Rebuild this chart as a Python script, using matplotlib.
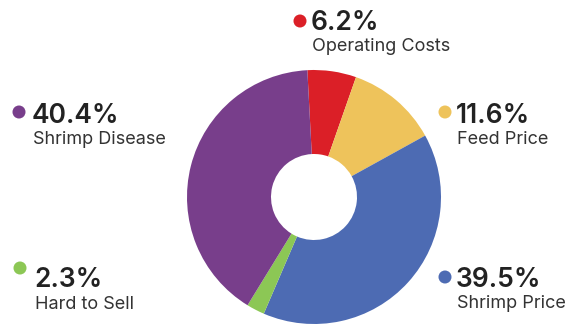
import matplotlib
matplotlib.use("Agg")
import matplotlib.pyplot as plt
from matplotlib.patches import Circle

# clockwise from the top
labels = ["Operating Costs", "Feed Price", "Shrimp Price", "Hard to Sell", "Shrimp Disease"]
shares = [6.2, 11.6, 39.5, 2.3, 40.4]
colors = ["#db1f27", "#eec35b", "#4d6bb3", "#8cc755", "#783e8b"]

# where each label block sits (pixels: dot x, dot y, text x, value baseline, name baseline)
label_pos = {
    "Operating Costs": (300, 21, 311, 30, 51),
    "Feed Price": (445, 112, 456, 123, 144),
    "Shrimp Price": (445, 277, 456, 287, 308),
    "Hard to Sell": (20, 268, 34, 287, 309),
    "Shrimp Disease": (19, 112, 32, 123, 144),
}

W, H = 568, 325
fig = plt.figure(figsize=(W / 100, H / 100), dpi=100)

cx, cy, r, r_in = 314, 197, 127, 43
ax = fig.add_axes([(cx - r) / W, (H - cy - r) / H, 2 * r / W, 2 * r / H])
ax.pie(shares, colors=colors, startangle=93, counterclock=False, radius=1,
       wedgeprops=dict(width=1 - r_in / r, linewidth=0))
ax.set_xlim(-1, 1)
ax.set_ylim(-1, 1)
ax.set_aspect("equal")
ax.axis("off")

# overlay in pixel units for labels
ov = fig.add_axes([0, 0, 1, 1])
ov.set_xlim(0, W)
ov.set_ylim(H, 0)
ov.axis("off")

for lab, val, col in zip(labels, shares, colors):
    dx, dy, tx, vy, ny = label_pos[lab]
    ov.add_patch(Circle((dx, dy), 6.5, color=col, lw=0))
    ov.text(tx, vy, f"{val}%", fontsize=19, fontweight="semibold", family="Inter",
            color="#222222", va="baseline", ha="left")
    ov.text(tx + 1, ny, lab, fontsize=13, family="Inter", color="#333333",
            va="baseline", ha="left")

fig.savefig("out.png", dpi=100)
